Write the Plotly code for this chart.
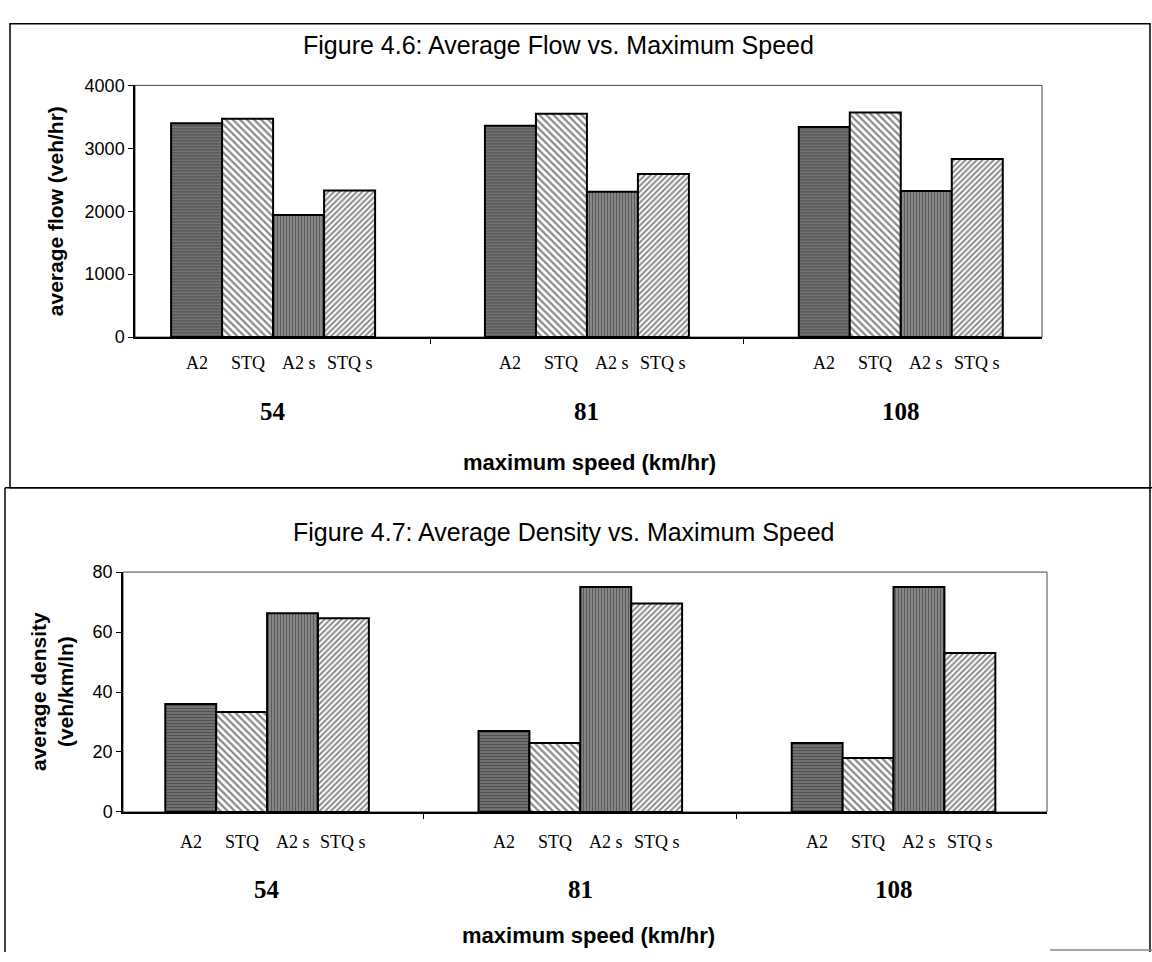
import plotly.graph_objects as go

# ---------------- data ----------------
speeds = ["54", "81", "108"]
series_names = ["A2", "STQ", "A2 s", "STQ s"]

flow_a2 = [3400, 3360, 3340]
flow_stq = [3470, 3550, 3570]
flow_a2s = [1940, 2310, 2320]
flow_stqs = [2330, 2590, 2830]

dens_a2 = [36, 27, 23]
dens_stq = [33.3, 23, 18]
dens_a2s = [66.3, 75, 75]
dens_stqs = [64.6, 69.5, 53]

flow_ticks = [0, 1000, 2000, 3000, 4000]
dens_ticks = [0, 20, 40, 60, 80]

# ---------------- style ----------------
W, H = 1152, 962
SANS = "Liberation Sans, Arial, sans-serif"
SERIF = "Liberation Serif, Times New Roman, serif"
BARGAP = 0.35

patterns = [
    dict(shape="-", size=3, solidity=0.6, fgcolor="#111111", bgcolor="#8a8a8a"),
    dict(shape="\\", size=5, solidity=0.45, fgcolor="#111111", bgcolor="#ffffff"),
    dict(shape="|", size=3, solidity=0.55, fgcolor="#1a1a1a", bgcolor="#9a9a9a"),
    dict(shape="/", size=4, solidity=0.48, fgcolor="#111111", bgcolor="#ffffff"),
]


def px(x):
    return x / W


def py(y):
    return 1 - y / H


fig = go.Figure()

flow_series = [flow_a2, flow_stq, flow_a2s, flow_stqs]
dens_series = [dens_a2, dens_stq, dens_a2s, dens_stqs]

for name, vals, pat in zip(series_names, flow_series, patterns):
    fig.add_trace(go.Bar(
        x=speeds, y=vals, name=name, xaxis="x", yaxis="y",
        marker=dict(color="white", pattern=pat, line=dict(color="black", width=2)),
        showlegend=False,
    ))
for name, vals, pat in zip(series_names, dens_series, patterns):
    fig.add_trace(go.Bar(
        x=speeds, y=vals, name=name, xaxis="x2", yaxis="y2",
        marker=dict(color="white", pattern=pat, line=dict(color="black", width=2)),
        showlegend=False,
    ))

# panel geometry (pixels)
top = dict(x0=135, x1=1042, y0=77, y1=334, xrange=[-0.44, 2.45],
           title_x=558, title_y=36, ser_y=360, cat_y=408, xt_x=589, xt_y=462, yt_x=55)
bot = dict(x0=123, x1=1047, y0=574, y1=819, xrange=[-0.46, 2.49],
           title_x=563, title_y=533, ser_y=849, cat_y=897, xt_x=588, xt_y=945, yt_x=52)

axis_common = dict(showgrid=False, zeroline=False, showline=True, linecolor="black",
                   linewidth=1.5, ticks="outside", ticklen=5, tickcolor="black",
                   tickwidth=1)

fig.update_layout(
    width=W, height=H, margin=dict(l=0, r=0, t=0, b=0),
    paper_bgcolor="white", plot_bgcolor="white",
    barmode="group", bargap=BARGAP, bargroupgap=0,
    xaxis=dict(domain=[px(top["x0"]), px(top["x1"])], anchor="y", type="category",
               categoryorder="array", categoryarray=speeds, range=top["xrange"],
               tickson="boundaries", showticklabels=False, **axis_common),
    yaxis=dict(domain=[py(top["y1"]), py(top["y0"])], anchor="x", range=[0, 4000],
               tickvals=flow_ticks, ticklabelstandoff=0,
               tickfont=dict(family=SANS, size=18, color="black"), **axis_common),
    xaxis2=dict(domain=[px(bot["x0"]), px(bot["x1"])], anchor="y2", type="category",
                categoryorder="array", categoryarray=speeds, range=bot["xrange"],
                tickson="boundaries", showticklabels=False, **axis_common),
    yaxis2=dict(domain=[py(bot["y1"]), py(bot["y0"])], anchor="x2", range=[0, 80],
                tickvals=dens_ticks, ticklabelstandoff=0,
                tickfont=dict(family=SANS, size=18, color="black"), **axis_common),
)

frame = dict(color="black", width=1.5)
shapes = []
# top panel frame
shapes.append(dict(type="rect", xref="paper", yref="paper", x0=px(10), x1=px(1150),
                   y0=py(488), y1=py(14), line=frame))
# bottom panel frame (open at the bottom, as in the scan)
shapes.append(dict(type="line", xref="paper", yref="paper", x0=px(5), x1=px(1152),
                   y0=py(488), y1=py(488), line=frame))
shapes.append(dict(type="line", xref="paper", yref="paper", x0=px(5), x1=px(5),
                   y0=py(488), y1=py(962), line=frame))
shapes.append(dict(type="line", xref="paper", yref="paper", x0=px(1150), x1=px(1150),
                   y0=py(488), y1=py(962), line=frame))
shapes.append(dict(type="line", xref="paper", yref="paper", x0=px(1050), x1=px(1152),
                   y0=py(960), y1=py(960), line=dict(color="#888888", width=1.5)))
# plot-area borders
for xa, ya in (("x", "y"), ("x2", "y2")):
    shapes.append(dict(type="rect", xref=f"{xa} domain", yref=f"{ya} domain", x0=0, x1=1,
                       y0=0, y1=1, line=dict(color="#444444", width=1), layer="below"))
fig.update_layout(shapes=shapes)

annotations = []
bar_w = (1 - BARGAP) / len(series_names)
offsets = [(j - (len(series_names) - 1) / 2) * bar_w for j in range(len(series_names))]

for panel, xa, ya, title, ytitle in (
    (top, "x", "y", "Figure 4.6: Average Flow vs. Maximum Speed",
     "average flow (veh/hr)"),
    (bot, "x2", "y2", "Figure 4.7: Average Density vs. Maximum Speed",
     "average density<br>(veh/km/ln)"),
):
    base = panel["y1"]
    for i, sp in enumerate(speeds):
        for j, nm in enumerate(series_names):
            annotations.append(dict(
                x=i + offsets[j], y=0, xref=xa, yref=ya, text=nm, showarrow=False,
                yshift=-(panel["ser_y"] - base), yanchor="middle", xanchor="center",
                font=dict(family=SERIF, size=18, color="black")))
        annotations.append(dict(
            x=i, y=0, xref=xa, yref=ya, text=sp, showarrow=False,
            yshift=-(panel["cat_y"] - base), yanchor="middle", xanchor="center",
            font=dict(family=SERIF, size=25, color="black", weight="bold")))
    annotations.append(dict(
        x=px(panel["title_x"]), y=py(panel["title_y"]), xref="paper", yref="paper",
        text=title, showarrow=False, xanchor="center", yanchor="middle",
        font=dict(family=SANS, size=25, color="black")))
    annotations.append(dict(
        x=px(panel["xt_x"]), y=py(panel["xt_y"]), xref="paper",
        yref="paper", text="maximum speed (km/hr)", showarrow=False,
        xanchor="center", yanchor="middle",
        font=dict(family=SANS, size=22, color="black", weight="bold")))
    annotations.append(dict(
        x=px(panel["yt_x"]), y=py((panel["y0"] + panel["y1"]) / 2), xref="paper",
        yref="paper", text=ytitle, showarrow=False, textangle=-90,
        xanchor="center", yanchor="middle",
        font=dict(family=SANS, size=21, color="black", weight="bold")))

fig.update_layout(annotations=annotations)

fig.write_html("out.html", post_script="document.body.style.margin='0';")
